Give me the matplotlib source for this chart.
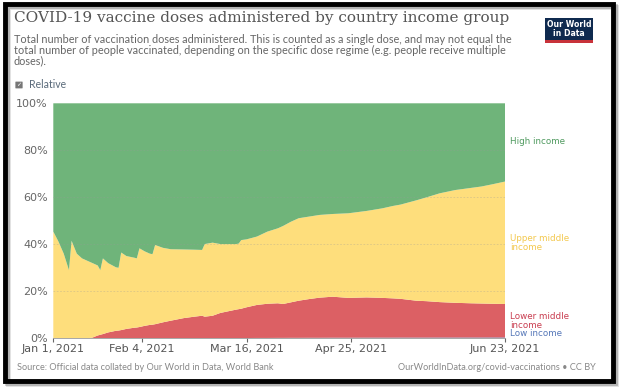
#!/usr/bin/env python3
import numpy as np
import pandas as pd
import matplotlib
matplotlib.use("Agg")
from matplotlib import pyplot as plt
from matplotlib.patches import Rectangle, FancyBboxPatch

# days since Jan 1, 2021
days = [0, 2, 4, 6, 7, 9, 11, 13, 15, 17, 18, 19, 21, 24, 25, 26, 28, 31, 32, 33,
        35, 37, 38, 39, 42, 45, 50, 54, 57, 58, 61, 64, 67, 70, 71, 72, 74, 78, 82,
        86, 88, 91, 94, 98, 102, 107, 113, 120, 126, 130, 133, 139, 143, 148, 154,
        160, 164, 168, 173]

# share of doses (%) by income group
low_income = [0, 0, 0, 0, 0, 0, 0, 0, 0, 0, 0, 0, 0, 0, 0, 0, 0, 0, 0, 0,
              0, 0, 0, 0, 0, 0, 0, 0, 0, 0.05, 0.05, 0.08, 0.1, 0.1, 0.1, 0.12, 0.12, 0.15, 0.15,
              0.18, 0.18, 0.2, 0.2, 0.22, 0.22, 0.25, 0.25, 0.27, 0.28, 0.28, 0.3, 0.3, 0.3, 0.32, 0.32,
              0.33, 0.33, 0.35, 0.35]
lower_middle = [0, 0, 0, 0, 0, 0, 0, 0, 0.3, 1.2, 1.5, 1.8, 2.5, 3.2, 3.3, 3.5, 4.0, 4.5, 4.6, 4.8,
                5.3, 5.7, 5.8, 6.0, 6.8, 7.5, 8.6, 9.2, 9.6, 9.15, 9.55, 10.72, 11.4, 12.1, 12.3, 12.48, 13.08, 14.05, 14.55,
                14.72, 14.42, 15.1, 15.8, 16.48, 17.08, 17.45, 16.95, 17.13, 16.92, 16.72, 16.5, 15.7, 15.5, 15.08, 14.78,
                14.57, 14.47, 14.35, 14.25]
upper_middle = [45.4, 41.1, 36.0, 29.0, 41.5, 36.0, 34.0, 33.0, 31.7, 29.8, 27.5, 32.2, 29.5, 27.0, 26.7, 33.0, 31.0, 29.8, 29.4, 33.5,
                31.7, 30.3, 30.0, 33.7, 31.7, 30.4, 29.2, 28.5, 28.0, 30.9, 31.1, 29.3, 28.6, 27.9, 27.9, 29.2, 28.9, 29.1, 30.7,
                31.9, 33.2, 34.3, 35.1, 35.1, 35.2, 35.2, 36.0, 36.8, 38.1, 39.3, 40.1, 42.7, 44.2, 46.3, 48.0,
                49.1, 49.8, 50.8, 52.1]
high_income = [54.6, 58.9, 64.0, 71.0, 58.5, 64.0, 66.0, 67.0, 68.0, 69.0, 71.0, 66.0, 68.0, 69.8, 70.0, 63.5, 65.0, 65.7, 66.0, 61.7,
               63.0, 64.0, 64.2, 60.3, 61.5, 62.1, 62.2, 62.3, 62.4, 59.9, 59.3, 59.9, 59.9, 59.9, 59.7, 58.2, 57.9, 56.7, 54.6,
               53.2, 52.2, 50.4, 48.9, 48.2, 47.5, 47.1, 46.8, 45.8, 44.7, 43.7, 43.1, 41.3, 40.0, 38.3, 36.9,
               36.0, 35.4, 34.5, 33.3]

tick_dates = ["2021-01-01", "2021-02-04", "2021-03-16", "2021-04-25", "2021-06-23"]
tick_labels = ["Jan 1, 2021", "Feb 4, 2021", "Mar 16, 2021", "Apr 25, 2021", "Jun 23, 2021"]
y_ticks = [0, 20, 40, 60, 80, 100]

colors = ["#5b7bbf", "#dc6064", "#fede7c", "#6fb47a"]
label_colors = ["#5577b8", "#c93d50", "#f3c84e", "#4f9a5f"]

dates = pd.Timestamp("2021-01-01") + pd.to_timedelta(days, unit="D")

fig = plt.figure(figsize=(6.24, 3.88), dpi=100)
ax = fig.add_axes([53.3 / 624, 1 - 338.3 / 388, (505 - 53.3) / 624, (338.3 - 103.3) / 388])

ax.stackplot(dates, low_income, lower_middle, upper_middle, high_income,
             colors=colors, linewidth=0)

for yv in y_ticks[1:-1]:
    ax.axhline(yv, color="#999999", lw=0.6, ls=(0, (2, 2)), alpha=0.35, zorder=3)

ax.set_ylim(0, 100)
ax.set_xlim(dates[0], dates[-1])
ax.set_yticks(y_ticks)
ax.set_yticklabels([f"{v}%" for v in y_ticks])
ax.set_xticks(pd.to_datetime(tick_dates))
ax.set_xticklabels(tick_labels)
ax.tick_params(axis="y", length=0, labelsize=8, colors="#666666", pad=4)
ax.tick_params(axis="x", length=3, labelsize=8, colors="#666666", labelcolor="#555555", pad=1)
for s in ["top", "right", "left"]:
    ax.spines[s].set_visible(False)
ax.spines["bottom"].set_color("#999999")
ax.spines["bottom"].set_linewidth(0.6)

# right side labels
lab_x = 510 / 624
fig.text(lab_x, 1 - 142 / 388, "High income", color=label_colors[3], fontsize=6.3, va="center")
fig.text(lab_x, 1 - 243 / 388, "Upper middle\nincome", color=label_colors[2], fontsize=6.3,
         va="center", linespacing=0.95)
fig.text(lab_x, 1 - 321 / 388, "Lower middle\nincome", color=label_colors[1], fontsize=6.3,
         va="center", linespacing=0.95)
fig.text(lab_x, 1 - 334 / 388, "Low income", color=label_colors[0], fontsize=6.3, va="center")

# title and subtitle
fig.text(14 / 624, 1 - 22 / 388, "COVID-19 vaccine doses administered by country income group",
         family="DejaVu Serif", fontsize=10.95, color="#555555", va="baseline")
fig.text(14 / 624, 1 - 34 / 388,
         "Total number of vaccination doses administered. This is counted as a single dose, and may not equal the\n"
         "total number of people vaccinated, depending on the specific dose regime (e.g. people receive multiple\n"
         "doses).",
         fontsize=7.8, color="#666666", va="top", linespacing=0.98, family="Lato")

# relative checkbox
fig.patches.append(FancyBboxPatch((16 / 624, 1 - 88 / 388), 6 / 624, 6 / 388,
                                  boxstyle="round,pad=0.001", fc="#777777", ec="none",
                                  transform=fig.transFigure, figure=fig))
fig.text(19 / 624, 1 - 85 / 388, "\u2713", fontsize=4.5, color="white", ha="center", va="center",
         fontweight="bold")
fig.text(29 / 624, 1 - 84 / 388, "Relative", fontsize=7.6, color="#5a6a7a", va="center", family="Lato")

# logo
fig.patches.append(Rectangle((545 / 624, 1 - 40 / 388), 48 / 624, 22 / 388, fc="#0f2a4f", ec="none",
                             transform=fig.transFigure, figure=fig))
fig.patches.append(Rectangle((545 / 624, 1 - 42.5 / 388), 48 / 624, 2.5 / 388, fc="#c8323a", ec="none",
                             transform=fig.transFigure, figure=fig))
fig.text(569 / 624, 1 - 29 / 388, "Our World\nin Data", fontsize=5.6, color="white", ha="center",
         va="center", fontweight="bold", linespacing=0.95)

# footer
fig.text(17 / 624, 1 - 367 / 388, "Source: Official data collated by Our World in Data, World Bank",
         fontsize=6.55, color="#888888", va="center", family="Lato")
fig.text(596 / 624, 1 - 367 / 388, "OurWorldInData.org/covid-vaccinations \u2022 CC BY",
         fontsize=6.55, color="#888888", va="center", ha="right", family="Lato")

# screenshot frame with shadow
for off, a in [(3, 0.12), (2, 0.2)]:
    fig.patches.append(Rectangle((4.5 / 624 + off / 624, 7.5 / 388 - off / 388), 608 / 624, 377 / 388,
                                 fill=False, ec="black", lw=3.5, alpha=a,
                                 transform=fig.transFigure, figure=fig))
fig.patches.append(Rectangle((4.5 / 624, 7.5 / 388), 608 / 624, 377 / 388, fill=False, ec="black", lw=3.5,
                             transform=fig.transFigure, figure=fig))

fig.savefig("out.png", dpi=100)
